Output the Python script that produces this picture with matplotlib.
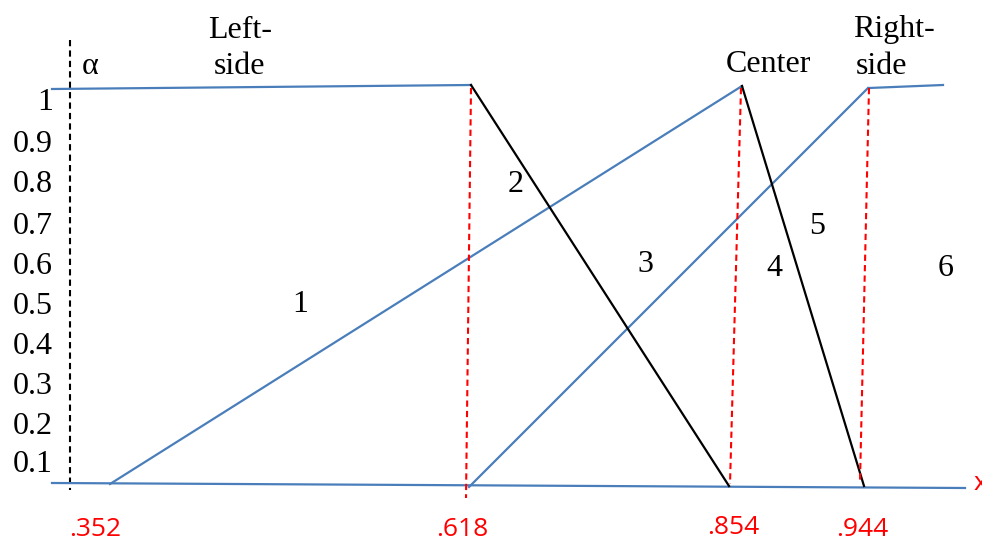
import matplotlib.pyplot as plt

# diagram geometry (drawing units = pixels of the 982x542 sketch, y grows downward)
alpha_ticks = ['1', '0.9', '0.8', '0.7', '0.6', '0.5', '0.4', '0.3', '0.2', '0.1']
alpha_tick_y = [103, 145, 185, 226, 267, 306, 346, 386, 426, 465]

cut_labels = ['.352', '.618', '.854', '.944']
cut_label_x = [95, 462, 733, 862]
cut_label_y = [530, 530, 527, 530]

# blue membership lines
left_top_x, left_top_y = [52, 471], [89, 85]
base_x, base_y = [52, 965], [483, 488]
center_x, center_y = [110, 742], [484, 86]
right_x, right_y = [469, 868], [487, 88]
right_top_x, right_top_y = [869, 943], [88, 85]

# black falling lines
fall1_x, fall1_y = [471, 729], [85, 486]
fall2_x, fall2_y = [742, 864], [86, 486]

# red dashed drops
drop_x = [[471, 466], [741, 730], [869, 860]]
drop_y = [[88, 498], [88, 484], [88, 482]]

region_labels = ['1', '2', '3', '4', '5', '6']
region_x = [300, 516, 645, 774, 817, 946]
region_y = [305, 185, 265, 268, 226, 268]

blue = '#4a7ebb'

fig = plt.figure(figsize=(9.82, 5.42), dpi=100)
ax = fig.add_axes([0, 0, 1, 1])
ax.set_xlim(0, 982)
ax.set_ylim(542, 0)
ax.axis('off')

ax.plot([70, 70], [40, 490], color='k', linestyle=(0, (3, 2)), linewidth=1.5)

for xs, ys in [(left_top_x, left_top_y), (base_x, base_y), (center_x, center_y),
               (right_x, right_y), (right_top_x, right_top_y)]:
    ax.plot(xs, ys, color=blue, linewidth=1.6)

ax.plot(fall1_x, fall1_y, color='k', linewidth=1.6)
ax.plot(fall2_x, fall2_y, color='k', linewidth=1.6)

for xs, ys in zip(drop_x, drop_y):
    ax.plot(xs, ys, color='red', linestyle=(0, (3, 2)), linewidth=1.5)

serif = 'Liberation Serif'
for lab, y in zip(alpha_ticks, alpha_tick_y):
    ax.text(53, y, lab, ha='right', va='center', fontsize=23, family=serif)

for lab, x, y in zip(region_labels, region_x, region_y):
    ax.text(x, y, lab, ha='center', va='center', fontsize=23, family=serif)

ax.text(90, 66, 'α', ha='center', va='center', fontsize=23, family=serif)
ax.text(240, 30, 'Left-', ha='center', va='center', fontsize=23, family=serif)
ax.text(240, 66, 'side', ha='center', va='center', fontsize=23, family=serif)
ax.text(768, 65, 'Center', ha='center', va='center', fontsize=23, family=serif)
ax.text(894, 30, 'Right-', ha='center', va='center', fontsize=23, family=serif)
ax.text(882, 66, 'side', ha='center', va='center', fontsize=23, family=serif)

for lab, x, y in zip(cut_labels, cut_label_x, cut_label_y):
    ax.text(x, y, lab, ha='center', va='center', fontsize=19, color='red',
            family='Open Sans')
ax.text(974, 483, 'x', ha='left', va='center', fontsize=19, color='red',
        family='Open Sans')

fig.savefig('out.png', dpi=100)
